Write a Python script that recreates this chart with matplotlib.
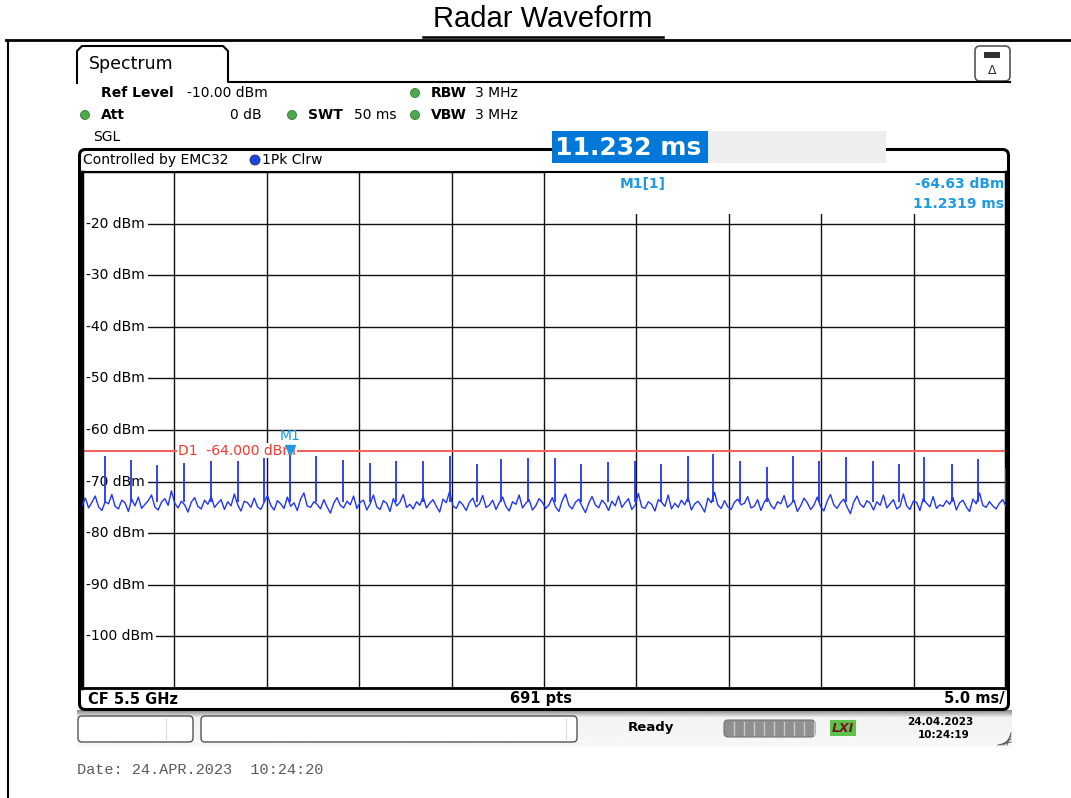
import matplotlib.pyplot as plt
import numpy as np
from matplotlib.patches import FancyBboxPatch, Rectangle, Circle

# sweep: 0..50 ms, 5.0 ms/div, ref level -10 dBm, 10 dB/div
t_span = 50.0
ref_level = -10.0
bottom_level = -110.0
ylabels = [-20, -30, -40, -50, -60, -70, -80, -90, -100]

# radar pulses seen on the trace (ms, dBm)
pulse_ms = [1.23, 2.67, 4.08, 5.52, 6.98, 8.44, 9.85, 11.232, 12.68, 14.11,
            15.58, 16.99, 18.44, 19.91, 21.36, 22.67, 24.15, 25.59, 27.00, 28.45,
            29.91, 31.35, 32.81, 34.13, 35.59, 37.05, 38.49, 39.90, 41.36, 42.80,
            44.19, 45.58, 47.06, 48.50, 49.98]
pulse_dbm = [-65.0, -65.8, -66.8, -66.3, -66.0, -66.1, -65.5, -64.63, -65.1, -65.9,
             -66.3, -66.0, -66.0, -65.0, -66.5, -65.7, -65.5, -65.5, -66.6, -66.2,
             -66.0, -66.5, -65.0, -64.7, -66.0, -67.1, -65.0, -66.1, -65.3, -66.0,
             -66.5, -65.2, -66.6, -65.7, -67.4]
noise_floor = -74.0

# noise floor of the trace (left to right)
noise_dbm = [
    -74.6, -73.2, -75.1, -74.0, -72.8, -74.9, -75.6, -73.9, -74.3, -72.5, -74.8, -75.3, -73.6, -74.1, -75.8, -73.4, -74.7, -73.0, -75.2, -74.4,
    -73.7, -72.6, -74.9, -75.5, -74.0, -73.3, -74.6, -71.8, -74.2, -75.1, -73.8, -74.5, -75.9, -74.0, -73.1, -74.8, -75.3, -73.6, -74.4, -72.9,
    -75.0, -74.2, -73.5, -75.4, -73.9, -74.7, -72.4, -74.5, -75.7, -73.8, -74.1, -75.0, -73.2, -74.9, -75.4, -74.0, -72.7, -74.6, -75.5, -73.7,
    -74.3, -75.2, -73.0, -74.8, -74.1, -75.6, -73.4, -72.2, -74.7, -75.0, -73.9, -74.4, -75.3, -73.5, -74.9, -76.1, -74.2, -73.1, -74.6, -75.1,
    -73.8, -74.5, -72.8, -75.2, -74.0, -73.6, -75.5, -74.3, -72.6, -74.9, -75.4, -73.7, -74.2, -75.8, -73.3, -74.7, -74.0, -72.5, -75.0, -74.4,
    -75.3, -73.9, -74.6, -72.9, -75.1, -74.2, -73.5, -74.8, -75.9, -73.4, -74.1, -71.9, -74.7, -75.2, -73.8, -74.5, -75.6, -74.0, -73.2, -74.9,
    -74.3, -72.7, -75.0, -74.6, -73.6, -75.4, -74.1, -73.0, -74.8, -75.7, -73.9, -74.4, -72.6, -75.1, -74.2, -73.5, -75.5, -74.7, -73.3, -74.0,
    -75.2, -74.5, -73.1, -74.9, -75.8, -73.7, -72.4, -74.6, -75.3, -74.0, -73.4, -74.8, -76.0, -74.2, -72.9, -74.5, -75.1, -73.6, -74.3, -75.6,
    -73.8, -74.7, -72.8, -75.0, -74.1, -73.3, -75.4, -74.6, -72.3, -74.9, -75.2, -73.9, -74.4, -75.7, -73.5, -74.0, -74.8, -72.6, -75.3, -74.2,
    -75.0, -73.6, -74.5, -73.0, -75.5, -74.3, -73.8, -74.7, -75.9, -73.2, -74.1, -72.1, -74.6, -75.2, -73.7, -74.9, -75.4, -74.0, -73.4, -74.5,
    -74.2, -72.9, -75.1, -74.8, -73.5, -75.6, -74.0, -73.1, -74.6, -75.3, -73.9, -74.3, -72.7, -75.0, -74.4, -73.6, -75.8, -74.7, -73.2, -74.1,
    -75.4, -74.6, -73.0, -74.8, -75.7, -73.8, -72.5, -74.5, -75.2, -74.1, -73.4, -74.9, -76.2, -74.0, -72.8, -74.4, -75.0, -73.7, -74.2, -75.5,
    -73.9, -74.6, -72.6, -75.1, -74.3, -73.5, -75.3, -74.8, -72.4, -74.7, -75.4, -73.8, -74.0, -75.6, -73.3, -74.2, -74.9, -72.9, -75.2, -74.5,
    -74.8, -73.7, -74.4, -73.1, -75.5, -74.1, -73.6, -74.9, -75.8, -73.4, -74.3, -72.2, -74.6, -75.0, -73.9, -74.7, -75.3, -74.2, -73.5, -74.8,
]

d1_level = -64.0
m1_time = 11.232
m1_level = -64.63

trace_col = '#2236ee'
marker_col = '#1d9ae0'
d1_col = '#f4625a'

W, H = 1071, 798
fig = plt.figure(figsize=(W / 100, H / 100), dpi=100)

# overlay in pixel coordinates for the instrument screen furniture
ov = fig.add_axes([0, 0, 1, 1], zorder=0)
ov.set_xlim(0, W)
ov.set_ylim(H, 0)
ov.axis('off')

def txt(x, y, s, size=10, **kw):
    kw.setdefault('va', 'center')
    kw.setdefault('family', 'DejaVu Sans')
    return ov.text(x, y, s, fontsize=size, **kw)

# title + page frame
txt(543, 19, 'Radar Waveform', size=21, ha='center', family='Liberation Sans')
ov.plot([423, 663], [36.5, 36.5], color='black', lw=1.8)
ov.plot([6, W], [39.5, 39.5], color='black', lw=2)
ov.plot([7.5, 7.5], [40.5, H], color='black', lw=1.5)

# Spectrum tab
ov.plot([77, 77, 82, 223, 228, 228, 1010], [83, 51, 46, 46, 51, 82, 82],
        color='black', lw=1.5)
txt(89, 64, 'Spectrum', size=12.5)
ov.add_patch(FancyBboxPatch((975, 46), 35, 35, boxstyle='round,pad=0,rounding_size=5',
                            fc='white', ec='#555555', lw=1.2))
ov.add_patch(Rectangle((984, 52), 16, 6, fc='#333333', ec='none'))
txt(992, 70, 'Δ', size=9, ha='center', color='#333333')

# header settings
green = '#4fa84f'
for gx, gy in [(415, 93), (85, 115), (292, 115), (415, 115)]:
    ov.add_patch(Circle((gx, gy), 4.5, fc=green, ec='#2e7d2e', lw=0.6))
txt(101, 93, 'Ref Level', weight='bold')
txt(187, 93, '-10.00 dBm')
txt(431, 93, 'RBW', weight='bold')
txt(475, 93, '3 MHz')
txt(101, 115, 'Att', weight='bold')
txt(262, 115, '0 dB', ha='right')
txt(308, 115, 'SWT', weight='bold')
txt(354, 115, '50 ms')
txt(431, 115, 'VBW', weight='bold')
txt(475, 115, '3 MHz')
txt(93, 137, 'SGL')

# panel around the diagram
ov.add_patch(FancyBboxPatch((79.5, 149.5), 929, 560, boxstyle='round,pad=0,rounding_size=6',
                            fc='white', ec='black', lw=2.2))
ov.add_patch(Rectangle((708, 131), 178, 32, fc='#eeeeee', ec='none'))
ov.add_patch(Rectangle((552, 131), 156, 32, fc='#0078d7', ec='none'))
txt(555, 148, '11.232 ms', size=18, weight='bold', color='white')
txt(83, 160, 'Controlled by EMC32')
ov.add_patch(Circle((255, 160), 5, fc='#2244dd', ec='#1a2a80', lw=0.6))
txt(262, 160, '1Pk Clrw')

# bottom line of the diagram
txt(88, 699, 'CF 5.5 GHz', size=10.5, weight='bold')
txt(541, 699, '691 pts', size=10.5, weight='bold', ha='center')
txt(1005, 699, '5.0 ms/', size=10.5, weight='bold', ha='right')

# status bar
grad = np.concatenate([np.linspace(0.55, 0.95, 8), np.linspace(0.95, 0.97, 30)])[:, None]
ov.imshow(grad, extent=(77, 1012, 747, 710), cmap='gray', vmin=0, vmax=1,
          aspect='auto', zorder=0.5)
ov.set_xlim(0, W)
ov.set_ylim(H, 0)
for bx, bw, sep in [(78, 115, 166), (201, 376, 566)]:
    ov.add_patch(FancyBboxPatch((bx, 716), bw, 26, boxstyle='round,pad=0,rounding_size=4',
                                fc='white', ec='#555555', lw=1, zorder=1))
    ov.plot([sep, sep], [719, 739], color='#dddddd', lw=0.8, zorder=1.1)
txt(651, 728, 'Ready', size=9.5, weight='bold', ha='center')
ov.add_patch(FancyBboxPatch((724, 720), 91, 17, boxstyle='round,pad=0,rounding_size=4',
                            fc='#8f8f8f', ec='#777777', lw=0.8, zorder=1))
for sx in range(734, 815, 10):
    ov.plot([sx, sx], [722, 735], color='#c8c8c8', lw=1, zorder=1.1)
ov.add_patch(Rectangle((830, 720), 26, 16, fc='#5cc24a', ec='none', zorder=1))
txt(843, 728, 'LXI', size=9, weight='bold', style='italic', color='#7a1424', ha='center')
txt(940, 722, '24.04.2023', size=7.5, weight='bold', ha='center')
txt(944, 735, '10:24:19', size=7.5, weight='bold', ha='center')
for k in range(4):
    ov.plot([998 + 3 * k, 1011], [745, 733 - 3 * k + 9], color='#555555', lw=0.7)

txt(77, 770, 'Date: 24.APR.2023  10:24:20', size=11, family='Liberation Mono', color='#5a5a5a')

# the diagram itself
ax = fig.add_axes([82 / W, (H - 688) / H, 924 / W, 516 / H], zorder=1)
ax.set_xlim(0, t_span)
ax.set_ylim(bottom_level, ref_level)
ax.set_xticks(np.arange(0, t_span + 0.1, 5))
ax.set_yticks(np.arange(bottom_level, ref_level + 0.1, 10))
ax.tick_params(length=0, labelbottom=False, labelleft=False)
ax.set_axisbelow(True)
ax.grid(True, color='#111111', lw=1)
for side in ['left', 'right']:
    ax.spines[side].set_linewidth(2.5)
ax.spines['top'].set_linewidth(1.5)
ax.spines['bottom'].set_linewidth(2)

for lv in ylabels:
    ax.text(0.22, lv, f'{lv} dBm', fontsize=10, va='center', ha='left', zorder=1.5,
            bbox=dict(fc='white', ec='none', pad=2))

# white box behind the marker readout
ax.add_patch(Rectangle((0.502, 0.9186), 0.5, 0.09, transform=ax.transAxes,
                       fc='white', ec='none', zorder=1))
ax.text(29.1, -12.3, 'M1[1]', fontsize=10, weight='bold', color=marker_col,
        va='center', zorder=2)
ax.text(49.9, -12.3, f'{m1_level:.2f} dBm', fontsize=10, weight='bold',
        color=marker_col, va='center', ha='right', zorder=2)
ax.text(49.9, -16.2, '11.2319 ms', fontsize=10,
        weight='bold', color=marker_col, va='center', ha='right', zorder=2)

# display line D1
ax.axhline(d1_level, color=d1_col, lw=1.5, zorder=2)
ax.text(5.2, d1_level, f'D1  {d1_level:.3f} dBm', fontsize=10, color='#ee3a30',
        va='center', ha='left', zorder=2.2, bbox=dict(fc='white', ec='none', pad=0.5))

# trace
t_noise = np.linspace(0, t_span, len(noise_dbm))
ax.plot(t_noise, noise_dbm, color=trace_col, lw=1.0, zorder=3)
ax.vlines(pulse_ms, noise_floor, pulse_dbm, color=trace_col, lw=1.3, zorder=3)

# marker M1
ax.plot([m1_time], [-63.9], marker='v', ms=7, color=marker_col, ls='none', zorder=4)
ax.text(m1_time, -61.2, 'M1', fontsize=10, color=marker_col, ha='center', va='center', zorder=4)

fig.savefig('out.png', dpi=100)
